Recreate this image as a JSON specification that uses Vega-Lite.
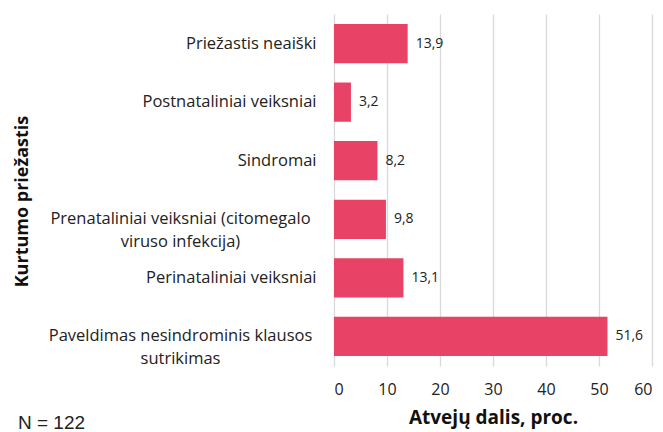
{
  "$schema": "https://vega.github.io/schema/vega-lite/v6.json",
  "width": 318,
  "height": 352,
  "autosize": "none",
  "padding": {"left": 334, "top": 14, "right": 11, "bottom": 66},
  "background": "white",
  "config": {
    "view": {"stroke": null},
    "font": "Open Sans",
    "locale": {"number": {"decimal": ",", "thousands": " ", "grouping": [3], "currency": ["", " €"]}}
  },
  "title": {
    "text": "N = 122",
    "orient": "bottom",
    "anchor": "start",
    "frame": "group",
    "font": "Liberation Sans",
    "fontSize": 19,
    "fontWeight": "normal",
    "color": "#222222",
    "dx": -316,
    "dy": -17,
    "offset": 4
  },
  "data": {
    "values": [
      {"cause": "Priežastis neaiški", "value": 13.9},
      {"cause": "Postnataliniai veiksniai", "value": 3.2},
      {"cause": "Sindromai", "value": 8.2},
      {"cause": "Prenataliniai veiksniai (citomegalo|viruso infekcija)", "value": 9.8},
      {"cause": "Perinataliniai veiksniai", "value": 13.1},
      {"cause": "Paveldimas nesindrominis klausos|sutrikimas", "value": 51.6}
    ]
  },
  "encoding": {
    "y": {
      "field": "cause",
      "type": "nominal",
      "sort": null,
      "scale": {"paddingInner": 0.33, "paddingOuter": 0.17},
      "axis": {
        "title": "Kurtumo priežastis",
        "titleFontSize": 18,
        "titleFontWeight": "bold",
        "titleColor": "#111111",
        "titleAngle": -90,
        "titleX": -312,
        "titleY": 187,
        "titleBaseline": "middle",
        "titleAlign": "center",
        "labelExpr": "split(datum.label, '|')",
        "labelFontSize": 16.5,
        "labelColor": "#222222",
        "labelLineHeight": 23,
        "labelAlign": {"condition": {"test": "indexof(datum.value, '|') >= 0", "value": "center"}, "value": "right"},
        "labelPadding": {"condition": {"test": "indexof(datum.value, '|') >= 0", "value": 154}, "value": 18},
        "ticks": false,
        "domain": false,
        "labelLimit": 400
      }
    }
  },
  "layer": [
    {
      "mark": {"type": "bar", "color": "#E84366"},
      "encoding": {
        "x": {
          "field": "value",
          "type": "quantitative",
          "scale": {"domain": [0, 60]},
          "axis": {
            "title": "Atvejų dalis, proc.",
            "titleFontSize": 19,
            "titleFontWeight": "bold",
            "titleColor": "#111111",
            "titlePadding": 11,
            "values": [0, 10, 20, 30, 40, 50, 60],
            "format": "d",
            "labelFontSize": 16,
            "labelColor": "#222222",
            "labelPadding": 15,
            "ticks": false,
            "domain": false,
            "grid": true,
            "gridColor": "#D9D9D9",
            "gridWidth": 1.3
          }
        }
      }
    },
    {
      "mark": {"type": "text", "align": "left", "dx": 8, "fontSize": 14, "color": "#222222"},
      "encoding": {
        "x": {"field": "value", "type": "quantitative"},
        "text": {"field": "value", "type": "quantitative", "format": ".1f"}
      }
    }
  ]
}
